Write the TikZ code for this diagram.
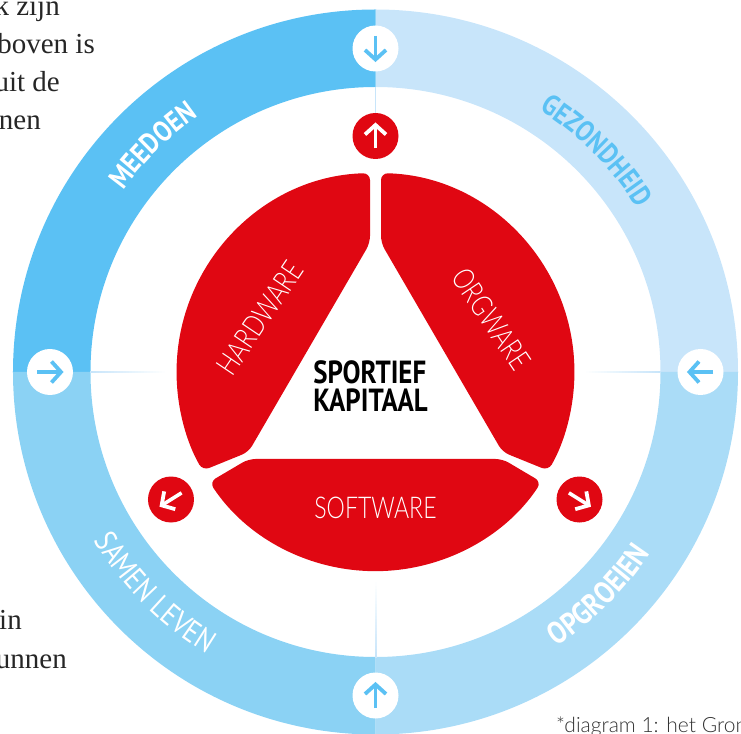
\documentclass[tikz,border=0pt]{standalone}
\usepackage{fontspec}
\usepackage{xcolor}
\setmainfont{Liberation Serif}
\newfontfamily\ringfont[FakeStretch=.84]{PT Sans}
\newfontfamily\partfont[FakeStretch=.77,UprightFont=* Light]{Lato}
\newfontfamily\notefont[UprightFont=* Light]{Lato}
\usetikzlibrary{decorations.text}
\definecolor{ringdark}{HTML}{5BC1F4}
\definecolor{ringpale}{HTML}{C8E5FA}
\definecolor{ringsoft}{HTML}{AADCF7}
\definecolor{ringmid}{HTML}{8BD2F4}
\definecolor{capred}{HTML}{E00712}

\begin{document}
\begin{tikzpicture}[
    x=1pt,y=1pt,
    redpart/.style={fill=capred,rounded corners=7pt},
    redbutton/.style={circle,fill=capred,minimum size=46pt,inner sep=0pt},
    whitebutton/.style={circle,fill=white,minimum size=46pt,inner sep=0pt},
    parttext/.style={font={\partfont\fontsize{30}{30}\selectfont},text=white,inner sep=0pt},
    ringtext/.style={decorate,decoration={text along path,text align=center,
        text color=#1}},
    bodytext/.style={font={\fontsize{29}{29}\selectfont},text=black!85,anchor=base east,inner sep=0pt},
    dirarrow/.pic={
        \draw[line width=3.6pt,pic actions] (-12.5,0) -- (11,0);
        \draw[line width=3.8pt,miter limit=10,pic actions] (1.5,10.5) -- (11,0) -- (1.5,-10.5);
    },
    ]
    \useasboundingbox (-375.5,-361) rectangle (365.5,372);
    % Text beside the circle
    \node[bodytext] (lineone) at (-315.5,356) {k zijn};
    \node[bodytext] (linetwo) at (-280.5,318) {boven is};
    \node[bodytext] (linethree) at (-315.5,280) {uit de};
    \node[bodytext] (linefour) at (-334.5,242) {nen};
    \node[bodytext] (linefive) at (-353.5,-257) {in};
    \node[bodytext] (linesix) at (-308.5,-296) {unnen};
    % Ring
    \foreach \ringcol/\startang in {ringpale/0,ringdark/90,ringmid/180,ringsoft/270}{
        \fill[\ringcol] (\startang:362.5) arc[start angle=\startang,delta angle=90,radius=362.5]
            -- ({\startang+90}:285) arc[start angle=\startang+90,delta angle=-90,radius=285] -- cycle;
    }
    % Ring names
    \path[ringtext=white,decoration={text={|\ringfont\fontsize{29}{29}\selectfont\bfseries|MEEDOEN}}]
        (180:311) arc[start angle=180,end angle=89,radius=311];
    \path[ringtext=ringdark,decoration={text={|\ringfont\fontsize{29}{29}\selectfont\bfseries|GEZONDHEID}}]
        (90:309) arc[start angle=90,end angle=0,radius=309];
    \path[ringtext=white,decoration={text={|\ringfont\fontsize{31}{31}\selectfont|SAMEN LEVEN}}]
        (180:328) arc[start angle=180,end angle=270,radius=328];
    \path[ringtext=white,decoration={text={|\ringfont\fontsize{31}{31}\selectfont\bfseries|OPGROEIEN}}]
        (270:329) arc[start angle=270,end angle=360,radius=329];
    % Pale lines between ring and centre
    \foreach \lineang in {180,0,270}{
        \foreach \fadestep in {0,...,24}{
            \pgfmathsetmacro{\fadepct}{100-4*\fadestep}
            \fill[ringpale!\fadepct!white,rotate=\lineang] ({285.5-3*\fadestep},-1) rectangle ({282.2-3*\fadestep},1);
        }
    }
    % Buttons
    \node[redbutton] (arrowtop) at (0,236) {};
    \node[redbutton] (arrowleft) at (-204.5,-127.5) {};
    \node[redbutton] (arrowright) at (204,-127.5) {};
    \node[whitebutton] (ringtop) at (0,323.5) {};
    \node[whitebutton] (ringleft) at (-325.5,0) {};
    \node[whitebutton] (ringright) at (325,0) {};
    \node[whitebutton] (ringbottom) at (0,-323.5) {};
    \coordinate (ringedge) at (0,285);
    \draw[ringpale,line width=1.5pt] (ringedge) -- (arrowtop);
    % Arrows in the buttons
    \pic[white,rotate=90] at (arrowtop) {dirarrow};
    \pic[white,rotate=212] at (arrowleft) {dirarrow};
    \pic[white,rotate=-32] at (arrowright) {dirarrow};
    \pic[ringdark,rotate=-90] at (ringtop) {dirarrow};
    \pic[ringdark,rotate=0] at (ringleft) {dirarrow};
    \pic[ringdark,rotate=180] at (ringright) {dirarrow};
    \pic[ringdark,rotate=90] at (ringbottom) {dirarrow};
    % Red parts
    \foreach \flip in {1,-1}{
        \fill[redpart,xscale=\flip] (-5.5,129) -- (-5.5,198.9)
            arc[start angle=91.6,end angle=209.7,radius=199] -- (-127,-80) -- cycle;
    }
    \fill[redpart] (-127,-87) -- (-166,-110)
        arc[start angle=213.5,end angle=326.5,radius=199] -- (127,-87) -- cycle;
    % Part names
    \node[parttext,rotate=56] (hardware) at (-115.5,54) {HARDWARE};
    \node[parttext,rotate=-56] (orgware) at (116,53) {ORGWARE};
    \node[parttext] (software) at (0,-136) {SOFTWARE};
    \node[font={\ringfont\fontsize{32}{28}\selectfont\bfseries},align=left,inner sep=0pt] (title)
        at (-5,-14) {SPORTIEF\\KAPITAAL};
    % Footnote
    \node[font={\notefont\fontsize{21}{21}\selectfont},text=black!80,anchor=base west,inner sep=0pt]
        (footnote) at (180.5,-360) {*diagram 1: het Gron};
\end{tikzpicture}
\end{document}
